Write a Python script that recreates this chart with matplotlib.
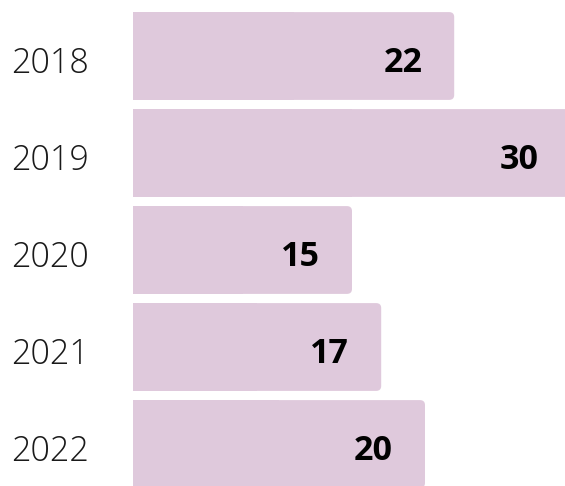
import matplotlib
matplotlib.use("Agg")
import matplotlib.pyplot as plt
from matplotlib.patches import FancyBboxPatch, Rectangle

years = ["2018", "2019", "2020", "2021", "2022"]
values = [22, 30, 15, 17, 20]

bar_color = "#dfc9dc"
W, H = 565, 486
x0_px = 133          # left edge of bars
px_per_unit = 14.6   # horizontal scale
y0_px = 56           # centre of first bar
pitch = 97           # px between bar centres

fig = plt.figure(figsize=(W / 100, H / 100), dpi=100)
ax = fig.add_axes([0, 0, 1, 1])
ax.set_xlim(-x0_px / px_per_unit, (W - x0_px) / px_per_unit)
ax.set_ylim((H - y0_px) / pitch, -y0_px / pitch)
ax.axis("off")

bars = ax.barh(range(len(years)), values, height=0.905, color=bar_color)

# swap the plain bars for ones with rounded right corners
r = 5 / px_per_unit
aspect = px_per_unit / pitch
for b in bars:
    x, y, w, h = b.get_x(), b.get_y(), b.get_width(), b.get_height()
    b.remove()
    ax.add_patch(FancyBboxPatch((x, y), w, h,
                                boxstyle=f"round,pad=0,rounding_size={r}",
                                mutation_aspect=aspect,
                                fc=bar_color, ec="none"))
    ax.add_patch(Rectangle((x, y), w / 2, h, fc=bar_color, ec="none"))

off = 32 / px_per_unit
for i, (yr, v) in enumerate(zip(years, values)):
    ax.text(-83 / px_per_unit, i + 0.08, yr, ha="center", va="center",
            fontsize=24.5, family="Open Sans", fontweight="light", color="#1a1a1a")
    ax.text(v - off, i + 0.07, str(v), ha="right", va="center",
            fontsize=24.5, family="Open Sans", fontweight="bold", color="black")

fig.savefig("out.png", dpi=100)
